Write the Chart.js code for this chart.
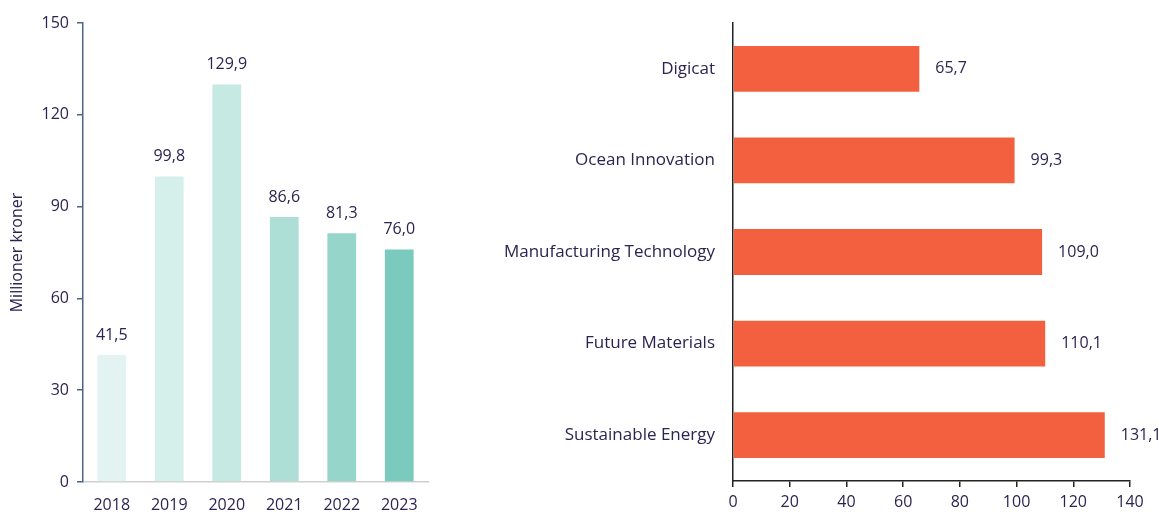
<!DOCTYPE html>
<html>
<head>
<meta charset="utf-8">
<script src="https://cdn.jsdelivr.net/npm/chart.js@4"></script>
<style>
  body { margin: 0; background: #fff; }
  .box { position: absolute; top: 0; height: 512px; }
  #leftBox { left: 0; width: 445px; }
  #rightBox { left: 470px; width: 689px; }
</style>
</head>
<body>
<div class="box" id="leftBox"><canvas id="yearChart"></canvas></div>
<div class="box" id="rightBox"><canvas id="areaChart"></canvas></div>
<script>
// data
const years = ['2018', '2019', '2020', '2021', '2022', '2023'];
const yearValues = [41.5, 99.8, 129.9, 86.6, 81.3, 76.0];
const yearColors = ['#e3f3f1', '#d5efeb', '#c7e9e3', '#aedfd7', '#96d5ca', '#7acbbe'];

const areas = ['Digicat', 'Ocean Innovation', 'Manufacturing Technology', 'Future Materials', 'Sustainable Energy'];
const areaValues = [65.7, 99.3, 109.0, 110.1, 131.1];

const textColor = '#2e2350';
const fontFamily = "'Open Sans', 'Noto Sans', sans-serif";

Chart.defaults.font.family = fontFamily;
Chart.defaults.color = textColor;
Chart.defaults.animation = false;

const fmt = v => v.toFixed(1).replace('.', ',');

// value labels on bars
const valueLabels = {
    id: 'valueLabels',
    afterDatasetsDraw(chart, args, opts) {
        const ctx = chart.ctx;
        const meta = chart.getDatasetMeta(0);
        ctx.save();
        ctx.font = '16px ' + fontFamily;
        ctx.fillStyle = textColor;
        meta.data.forEach((bar, i) => {
            const v = chart.data.datasets[0].data[i];
            if (opts.horizontal) {
                ctx.textAlign = 'left';
                ctx.textBaseline = 'middle';
                ctx.fillText(fmt(v), bar.x + 16, bar.y);
            } else {
                ctx.textAlign = 'center';
                ctx.textBaseline = 'bottom';
                ctx.fillText(fmt(v), bar.x, bar.y - 12);
            }
        });
        ctx.restore();
    }
};

new Chart(document.getElementById('yearChart'), {
    type: 'bar',
    data: {
        labels: years,
        datasets: [{
            data: yearValues,
            backgroundColor: yearColors,
            barPercentage: 0.5,
            categoryPercentage: 1.0,
        }]
    },
    options: {
        responsive: true,
        maintainAspectRatio: false,
        layout: { padding: { top: 23, right: 17, left: 6 } },
        plugins: {
            legend: { display: false },
            tooltip: { enabled: false },
            valueLabels: { horizontal: false },
        },
        scales: {
            x: {
                grid: { display: false },
                border: { color: '#cfcfcf', width: 1.5 },
                ticks: { font: { size: 16 }, color: textColor, padding: 6 },
                afterFit(scale) { scale.height = 30; },
            },
            y: {
                min: 0,
                max: 150,
                ticks: { stepSize: 30, font: { size: 16 }, color: textColor, padding: 8 },
                grid: { drawOnChartArea: false, color: '#4a6682', tickLength: 6, lineWidth: 1.5 },
                border: { color: '#4a6682', width: 1.5 },
                title: { display: true, text: 'Millioner kroner', font: { size: 16 }, color: textColor, padding: 2 },
                afterFit(scale) { scale.width = 77; },
            }
        }
    },
    plugins: [valueLabels]
});

new Chart(document.getElementById('areaChart'), {
    type: 'bar',
    data: {
        labels: areas,
        datasets: [{
            data: areaValues,
            backgroundColor: '#f2603f',
            barPercentage: 0.5,
            categoryPercentage: 1.0,
        }]
    },
    options: {
        indexAxis: 'y',
        responsive: true,
        maintainAspectRatio: false,
        layout: { padding: { top: 23, right: 29 } },
        plugins: {
            legend: { display: false },
            tooltip: { enabled: false },
            valueLabels: { horizontal: true },
        },
        scales: {
            x: {
                min: 0,
                max: 140,
                ticks: { stepSize: 20, font: { size: 16 }, color: textColor, padding: 6 },
                grid: { drawOnChartArea: false, color: '#222', tickLength: 6, lineWidth: 1.5 },
                border: { color: '#222', width: 1.5 },
                afterFit(scale) { scale.height = 31; },
            },
            y: {
                grid: { display: false },
                border: { color: '#222', width: 1.5 },
                ticks: { font: { size: 17 }, color: textColor, padding: 10 },
                afterFit(scale) { scale.width = 263; },
            }
        }
    },
    plugins: [valueLabels]
});
</script>
</body>
</html>
